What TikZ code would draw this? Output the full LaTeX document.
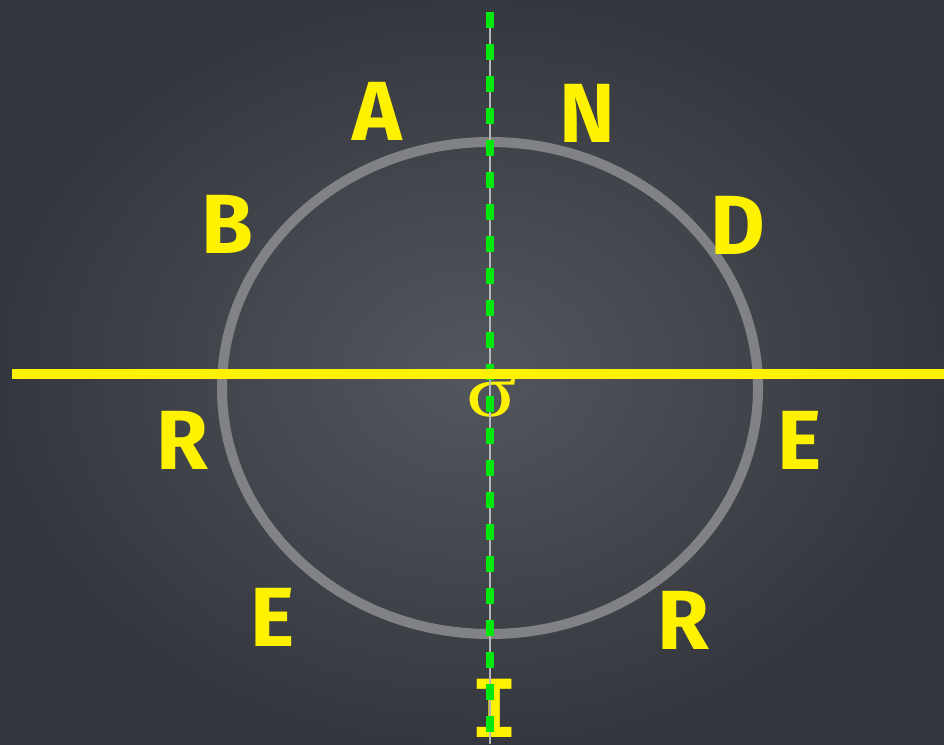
\documentclass[tikz,border=0pt]{standalone}
\usepackage{graphicx}
\usepackage{fontspec}
\newfontfamily\chalkfont{Fira Sans}
\newfontfamily\slabfont{DejaVu Sans Mono}
\newfontfamily\greekfont{Liberation Serif}
\usetikzlibrary{positioning}
\definecolor{board}{HTML}{34373D}
\definecolor{boardlight}{HTML}{53565D}
\definecolor{ringgray}{HTML}{808286}
\definecolor{chalkyellow}{HTML}{FFF200}
\definecolor{mirrorgreen}{HTML}{00E80C}
\definecolor{axisgray}{HTML}{B4B6B9}

\begin{document}
\begin{tikzpicture}[x=1pt, y=-1pt,
  letter/.style={font=\chalkfont\bfseries\fontsize{84}{84}\selectfont, text=chalkyellow, inner sep=0pt},
  ring/.style={draw=ringgray, line width=10pt},
  mirror/.style={draw=mirrorgreen, line width=8pt, dash pattern=on 16pt off 16pt},
  axis/.style={draw=chalkyellow, line width=10pt}]
  \useasboundingbox (0,0) rectangle (944,744);

  % chalkboard
  \fill[board] (0,0) rectangle (944,744);
  \shade[inner color=boardlight, outer color=board] (0,0) rectangle (944,744);

  % circle
  \coordinate (o) at (490,388);
  \draw[ring] (o) ellipse [x radius=268, y radius=246];

  % letters round the circle
  \node[letter] (a)  at (377,111) {A};
  \node[letter] (n)  at (587,113) {N};
  \node[letter] (b)  at (227,224) {B};
  \node[letter] (d)  at (738,225) {D};
  \node[letter] (r1) at (182,440) {R};
  \node[letter] (e1) at (800,440) {E};
  \node[letter] (e2) at (273,617) {E};
  \node[letter] (r2) at (683,620) {R};
  \node[letter, font=\slabfont\bfseries\fontsize{80}{80}\selectfont] (i) at (495,708) {I};

  \node[text=chalkyellow, font=\greekfont\fontsize{75}{75}\selectfont, inner sep=0pt] (sigma) at (492,398)
    {\scalebox{1.25}[1]{σ}};

  % vertical mirror line
  \coordinate (vtop) at (490,12);
  \coordinate (vbot) at (490,744);
  \draw[axisgray, line width=2pt] (vtop) -- (vbot);
  \draw[mirror] (vtop) -- (vbot);

  % horizontal axis
  \coordinate (hl) at (12,374);
  \coordinate (hr) at (944,374);
  \draw[axis] (hl) -- (hr);
\end{tikzpicture}
\end{document}
